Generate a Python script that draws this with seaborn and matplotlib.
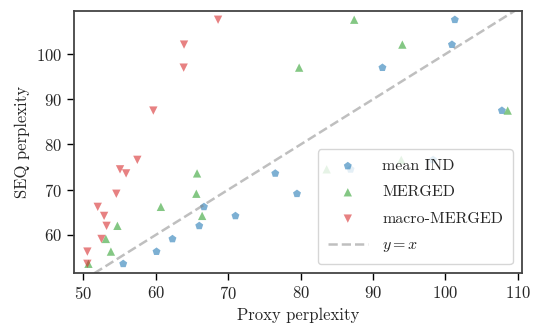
import pandas as pd
import seaborn as sns
import matplotlib.pyplot as plt

# SEQ perplexity (shared rows) and proxy perplexity for each method
seq_ppl = [107.6, 102.1, 97.0, 87.5, 76.6, 74.5, 73.6, 69.1, 66.2, 64.2, 62.0, 59.1, 56.3, 53.6]
mean_ind = [101.3, 100.9, 91.3, 107.8, 98.3, 86.9, 76.5, 79.5, 66.65, 71.0, 66.0, 62.3, 60.1, 55.5]
merged = [87.4, 94.05, 79.8, 108.6, 93.9, 83.6, 65.7, 65.6, 60.7, 66.4, 54.7, 53.1, 53.8, 50.7]
macro_merged = [68.6, 63.9, 63.85, 59.66, 57.45, 55.06, 55.9, 54.55, 51.98, 52.86, 53.2, 52.5, 50.55, 50.55]

series = [
    ("mean IND", mean_ind, "p", "tab:blue"),
    ("MERGED", merged, "^", "tab:green"),
    ("macro-MERGED", macro_merged, "v", "tab:red"),
]

sns.set_style("ticks")
plt.rcParams["font.family"] = "serif"
plt.rcParams["font.serif"] = ["cmr10", "DejaVu Serif"]
plt.rcParams["mathtext.fontset"] = "cm"
plt.rcParams["axes.formatter.use_mathtext"] = True

fig = plt.figure(figsize=(5.4, 3.24), dpi=100)
ax = fig.add_axes([0.137, 0.1565, 0.83, 0.8105])

for name, xs, marker, color in series:
    df = pd.DataFrame({"proxy": xs, "seq": seq_ppl})
    sns.scatterplot(data=df, x="proxy", y="seq", marker=marker, color=color,
                    alpha=0.58, s=36, edgecolor="none", label=name, ax=ax)

ax.axline((0, 0), (1, 1), color="gray", alpha=0.5, ls="--", lw=1.8, label="$y = x$")

ax.set_xlim(48.7, 110.6)
ax.set_ylim(51.5, 109.6)
ax.set_xticks([50, 60, 70, 80, 90, 100, 110])
ax.set_yticks([60, 70, 80, 90, 100])
ax.tick_params(labelsize=12, length=5, width=1, color="black")
for sp in ax.spines.values():
    sp.set_color("#444444")
    sp.set_linewidth(1.3)

ax.set_xlabel("Proxy perplexity", fontsize=12)
ax.set_ylabel("SEQ perplexity", fontsize=12)
ax.legend(loc="lower right", fontsize=11.5, frameon=True, framealpha=0.8,
          handlelength=2.5, handletextpad=0.9, borderpad=0.6, labelspacing=0.76,
          borderaxespad=0.6)

fig.savefig("out.png", dpi=100)
